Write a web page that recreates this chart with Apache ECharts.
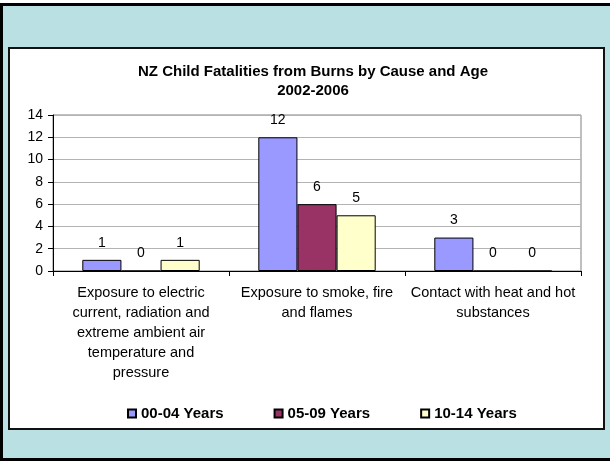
<!DOCTYPE html>
<html>
<head>
<meta charset="utf-8">
<script src="https://cdn.jsdelivr.net/npm/echarts@6/dist/echarts.min.js"></script>
<style>
  html, body { margin: 0; padding: 0; background: #fff; }
  #outer { position: absolute; left: 0; top: 3px; width: 640px; height: 458px; box-sizing: border-box;
           border: 3px solid #000; background: #BBE0E3; }
  #panel { position: absolute; left: 8px; top: 47px; width: 597px; height: 383px; box-sizing: border-box;
           border: 2px solid #111; background: #fff; }
  #chart { position: absolute; left: 0; top: 0; width: 610px; height: 461px; }
</style>
</head>
<body>
<div id="outer"></div>
<div id="panel"></div>
<div id="chart"></div>
<script>
const titleLines = ['NZ Child Fatalities from Burns by Cause and Age', '2002-2006'];
const categories = [
  'Exposure to electric\ncurrent, radiation and\nextreme ambient air\ntemperature and\npressure',
  'Exposure to smoke, fire\nand flames',
  'Contact with heat and hot\nsubstances'
];
const seriesNames = ['00-04 Years', '05-09 Years', '10-14 Years'];
const age00to04 = [1, 12, 3];
const age05to09 = [0, 6, 0];
const age10to14 = [1, 5, 0];
const yMin = 0, yMax = 14, yStep = 2;

const colors = ['#9999FF', '#993366', '#FFFFCC'];
const font = 'Arial, "Liberation Sans", sans-serif';
const values = [age00to04, age05to09, age10to14];

const chart = echarts.init(document.getElementById('chart'), null, { renderer: 'canvas' });
chart.setOption({
  animation: false,
  textStyle: { fontFamily: font },
  title: {
    text: titleLines.join('\n'),
    left: 308, textAlign: 'center',
    top: 57,
    textStyle: { fontFamily: font, fontSize: 15, fontWeight: 'bold', color: '#000', lineHeight: 19 }
  },
  legend: {
    data: seriesNames,
    left: 122, top: 401,
    itemWidth: 8, itemHeight: 8, itemGap: 50,
    icon: 'rect',
    textStyle: { fontFamily: font, fontSize: 15, fontWeight: 'bold', color: '#000' }
  },
  grid: {
    left: 53, right: 29, top: 115, bottom: 190,
    show: true, borderColor: '#808080', borderWidth: 1, backgroundColor: 'transparent'
  },
  xAxis: {
    type: 'category',
    data: categories,
    axisLine: { lineStyle: { color: '#000', width: 1 } },
    axisTick: { show: true, length: 5, lineStyle: { color: '#000' } },
    axisLabel: { fontFamily: font, fontSize: 14.5, color: '#000', lineHeight: 20, margin: 12, interval: 0 }
  },
  yAxis: {
    type: 'value',
    min: yMin, max: yMax, interval: yStep,
    axisLine: { show: true, lineStyle: { color: '#000', width: 1 } },
    axisTick: { show: true, length: 5, lineStyle: { color: '#000' } },
    axisLabel: { fontFamily: font, fontSize: 14, color: '#000', margin: 10 },
    splitLine: { lineStyle: { color: '#b3b3b3', width: 1 } }
  },
  series: seriesNames.map((name, i) => ({
    name: name,
    type: 'bar',
    data: values[i],
    barGap: '0%',
    barCategoryGap: '33.3%',
    itemStyle: { color: colors[i], borderColor: '#000', borderWidth: 1 },
    label: { show: true, position: 'top', distance: 10, fontFamily: font, fontSize: 14, color: '#000' }
  }))
});
</script>
</body>
</html>
